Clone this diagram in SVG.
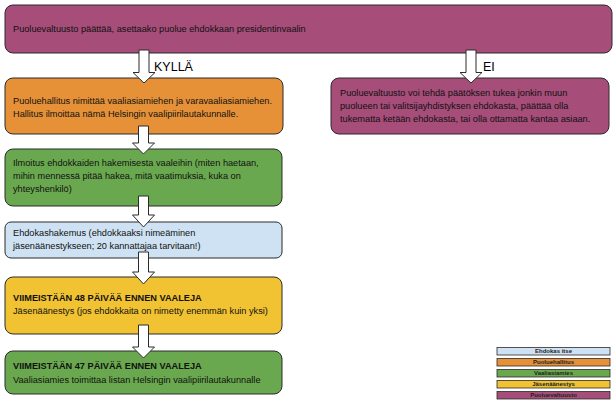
<svg xmlns="http://www.w3.org/2000/svg" width="616" height="405" viewBox="0 0 616 405">
  <style>
    .box { stroke: #2b2b2b; stroke-width: 1; }
    .purple { fill: #a64d79; }
    .orange { fill: #e69138; }
    .green { fill: #6aa84f; }
    .blue { fill: #cfe2f3; }
    .yellow { fill: #f1c232; }
    .t { font-family: "Liberation Sans", Arial, sans-serif; font-size: 9.2px; fill: #111; }
    .b { font-weight: bold; }
    .lbl { font-family: "Liberation Sans", Arial, sans-serif; font-size: 12.5px; fill: #000; }
    .leg { stroke: #2b2b2b; stroke-width: 0.8; }
    .legt { font-family: "Liberation Sans", Arial, sans-serif; font-size: 6px; font-weight: bold; fill: #222; text-anchor: middle; }
    .arrow { fill: #fff; stroke: #2b2b2b; stroke-width: 1; stroke-linejoin: miter; }
  </style>

  <!-- nodes -->
  <g id="council-decides">
    <rect class="box purple" x="5" y="5" width="607" height="48" rx="8"/>
    <text class="t" x="13" y="32">Puoluevaltuusto päättää, asettaako puolue ehdokkaan presidentinvaalin</text>
  </g>

  <g id="board-appoints">
    <rect class="box orange" x="5" y="78" width="278" height="56" rx="8"/>
    <text class="t" x="13" y="104">Puoluehallitus nimittää vaaliasiamiehen ja varavaaliasiamiehen.</text>
    <text class="t" x="13" y="117">Hallitus ilmoittaa nämä Helsingin vaalipiirilautakunnalle.</text>
  </g>

  <g id="call-for-candidates">
    <rect class="box green" x="5" y="149" width="277" height="57" rx="8"/>
    <text class="t" x="13" y="166">Ilmoitus ehdokkaiden hakemisesta vaaleihin (miten haetaan,</text>
    <text class="t" x="13" y="179">mihin mennessä pitää hakea, mitä vaatimuksia, kuka on</text>
    <text class="t" x="13" y="192">yhteyshenkilö)</text>
  </g>

  <g id="candidate-application">
    <rect class="box blue" x="5" y="222" width="277" height="36" rx="6"/>
    <text class="t" x="13" y="236">Ehdokashakemus (ehdokkaaksi nimeäminen</text>
    <text class="t" x="13" y="249">jäsenäänestykseen; 20 kannattajaa tarvitaan!)</text>
  </g>

  <g id="member-vote">
    <rect class="box yellow" x="5" y="277" width="277" height="57" rx="8"/>
    <text class="t b" x="13" y="301">VIIMEISTÄÄN 48 PÄIVÄÄ ENNEN VAALEJA</text>
    <text class="t" x="13" y="314">Jäsenäänestys (jos ehdokkaita on nimetty enemmän kuin yksi)</text>
  </g>

  <g id="list-submitted">
    <rect class="box green" x="5" y="351" width="277" height="43" rx="8"/>
    <text class="t b" x="13" y="369">VIIMEISTÄÄN 47 PÄIVÄÄ ENNEN VAALEJA</text>
    <text class="t" x="13" y="383">Vaaliasiamies toimittaa listan Helsingin vaalipiirilautakunnalle</text>
  </g>

  <g id="council-alternative">
    <rect class="box purple" x="331" y="78" width="278" height="56" rx="8"/>
    <text class="t" x="340" y="96">Puoluevaltuusto voi tehdä päätöksen tukea jonkin muun</text>
    <text class="t" x="340" y="109">puolueen tai valitsijayhdistyksen ehdokasta, päättää olla</text>
    <text class="t" x="340" y="122">tukematta ketään ehdokasta, tai olla ottamatta kantaa asiaan.</text>
  </g>

  <!-- connectors: hollow block arrows -->
  <g id="connectors">
    <polygon class="arrow" points="139,50 149,50 149,72.5 155,72.5 144,83 133,72.5 139,72.5"/>
    <polygon class="arrow" points="466,50 476,50 476,72.5 482,72.5 471,83 460,72.5 466,72.5"/>
    <polygon class="arrow" points="138.5,126 148.5,126 148.5,143 154.5,143 143.5,154 132.5,143 138.5,143"/>
    <polygon class="arrow" points="138.5,196 148.5,196 148.5,215 154.5,215 143.5,227 132.5,215 138.5,215"/>
    <polygon class="arrow" points="138.5,252 148.5,252 148.5,272 154.5,272 143.5,284 132.5,272 138.5,272"/>
    <polygon class="arrow" points="138.5,325 148.5,325 148.5,347 154.5,347 143.5,358 132.5,347 138.5,347"/>
    <text class="lbl" x="154" y="71">KYLLÄ</text>
    <text class="lbl" x="483" y="71">EI</text>
  </g>

  <!-- legend -->
  <g id="legend">
    <rect class="leg blue" x="497" y="347.5" width="113" height="7.5"/>
    <text class="legt" x="553.5" y="353.3">Ehdokas itse</text>
    <rect class="leg orange" x="497" y="358.5" width="113" height="7.5"/>
    <text class="legt" x="553.5" y="364.3">Puoluehallitus</text>
    <rect class="leg green" x="497" y="369.5" width="113" height="7.5"/>
    <text class="legt" x="553.5" y="375.3">Vaaliasiamies</text>
    <rect class="leg yellow" x="497" y="380.5" width="113" height="7.5"/>
    <text class="legt" x="553.5" y="386.3">Jäsenäänestys</text>
    <rect class="leg purple" x="497" y="391.5" width="113" height="7.5"/>
    <text class="legt" x="553.5" y="397.3">Puoluevaltuusto</text>
  </g>
</svg>
